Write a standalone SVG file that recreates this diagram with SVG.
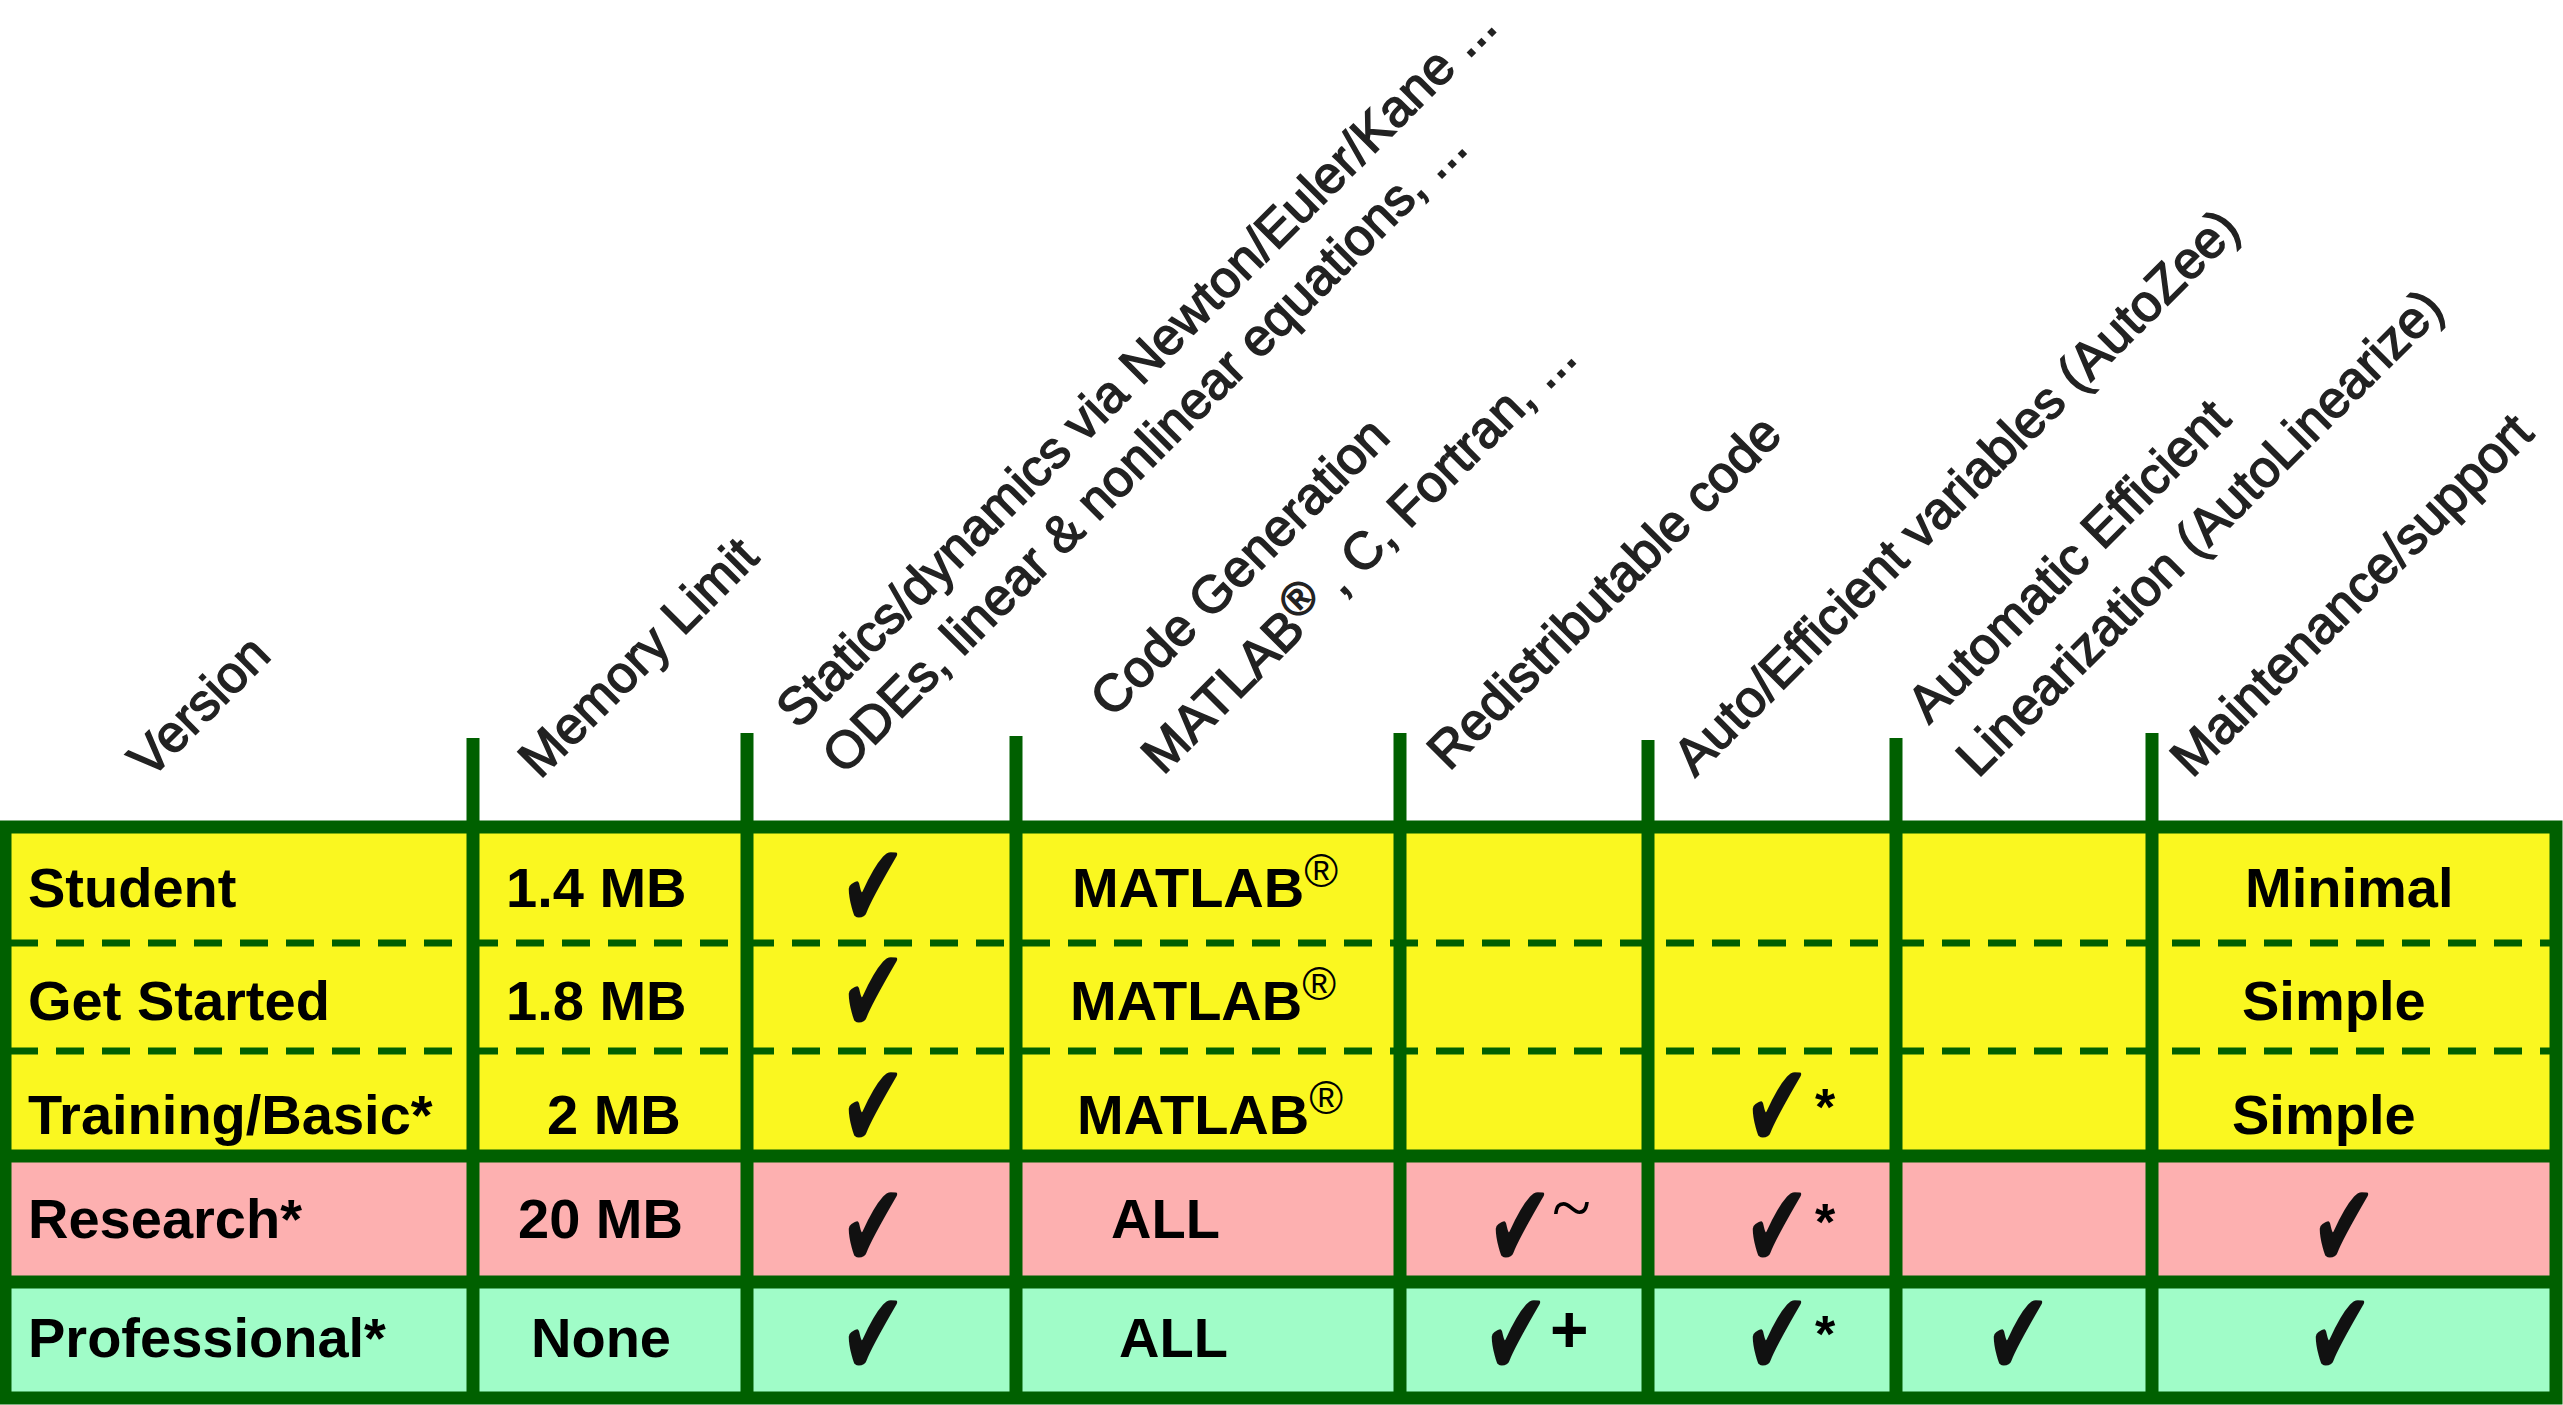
<svg xmlns="http://www.w3.org/2000/svg" width="2563" height="1405" viewBox="0 0 2563 1405">
<style>
.h{font-family:"Liberation Sans",Arial,sans-serif;font-size:52px;fill:#222;stroke:#222;stroke-width:1.5}
.t{font-family:"Liberation Sans",Arial,sans-serif;font-size:56px;font-weight:bold;fill:#000}
.r{font-family:"Liberation Sans",Arial,sans-serif;font-weight:normal;font-size:46px}
.c{font-family:"DejaVu Sans",sans-serif;font-size:100px;fill:#111;text-anchor:middle}
.s{font-family:"Liberation Sans",Arial,sans-serif;font-size:52px;font-weight:bold;fill:#000}
.g{stroke:#006000;stroke-width:13;fill:none}
.d{stroke:#006000;stroke-width:7;stroke-dasharray:28 18;fill:none}
</style>
<rect width="2563" height="1405" fill="#fff"/>
<g id="rows">
<rect x="5" y="827" width="2551" height="329" fill="#FAF720"/>
<rect x="5" y="1156" width="2551" height="126" fill="#FDB0B0"/>
<rect x="5" y="1282" width="2551" height="116" fill="#A0FCC8"/>
</g>
<g id="grid">
<path class="d" d="M10 943H2550M10 1051H2550"/>
<path class="g" d="M5 1156H2556M5 1282H2556"/>
<path class="g" d="M473 738V1398M747 733V1398M1016 736V1398M1400 733V1398M1648 740V1398M1896 738V1398M2152 733V1398"/>
<rect class="g" x="5" y="827" width="2551" height="571"/>
</g>
<g id="headers">
<text class="h" transform="translate(150,780) rotate(-45)">Version</text>
<text class="h" transform="translate(540,780) rotate(-45)">Memory Limit</text>
<text class="h" transform="translate(798,730) rotate(-45)">Statics/dynamics via Newton/Euler/Kane ...</text>
<text class="h" transform="translate(844,776) rotate(-45)">ODEs, linear &amp; nonlinear equations, ...</text>
<text class="h" transform="translate(1112,719) rotate(-45)">Code Generation</text>
<text class="h" transform="translate(1163,776) rotate(-45)">MATLAB<tspan class="r" dy="-14">®</tspan><tspan dy="14"> , C, Fortran, ...</tspan></text>
<text class="h" transform="translate(1449,772) rotate(-45)">Redistributable code</text>
<text class="h" transform="translate(1695,778) rotate(-45)">Auto/Efficient variables (AutoZee)</text>
<text class="h" transform="translate(1929,725) rotate(-45)">Automatic Efficient</text>
<text class="h" transform="translate(1978,779) rotate(-45)">Linearization (AutoLinearize)</text>
<text class="h" transform="translate(2192,779) rotate(-45)">Maintenance/support</text>
</g>
<g id="col-version">
<text class="t" x="28" y="907">Student</text>
<text class="t" x="28" y="1020">Get Started</text>
<text class="t" x="28" y="1134">Training/Basic*</text>
<text class="t" x="28" y="1238">Research*</text>
<text class="t" x="28" y="1357">Professional*</text>
</g>
<g id="col-memory">
<text class="t" x="506" y="907">1.4 MB</text>
<text class="t" x="506" y="1020">1.8 MB</text>
<text class="t" x="547" y="1134">2 MB</text>
<text class="t" x="518" y="1238">20 MB</text>
<text class="t" x="531" y="1357">None</text>
</g>
<g id="col-statics">
<text class="c" transform="matrix(0.8 0 0 1.2 873 928)">✔</text>
<text class="c" transform="matrix(0.8 0 0 1.2 873 1033)">✔</text>
<text class="c" transform="matrix(0.8 0 0 1.2 873 1148)">✔</text>
<text class="c" transform="matrix(0.8 0 0 1.2 873 1268)">✔</text>
<text class="c" transform="matrix(0.8 0 0 1.2 873 1376)">✔</text>
</g>
<g id="col-code">
<text class="t" x="1072" y="907">MATLAB<tspan class="r" dy="-20">®</tspan></text>
<text class="t" x="1070" y="1020">MATLAB<tspan class="r" dy="-20">®</tspan></text>
<text class="t" x="1077" y="1134">MATLAB<tspan class="r" dy="-20">®</tspan></text>
<text class="t" x="1111" y="1238">ALL</text>
<text class="t" x="1119" y="1357">ALL</text>
</g>
<g id="col-redist">
<text class="c" transform="matrix(0.8 0 0 1.2 1520 1268)">✔</text>
<text x="1552" y="1232" style="font-family:'Liberation Serif',serif;font-size:72px;fill:#000">~</text>
<text class="c" transform="matrix(0.8 0 0 1.2 1516 1376)">✔</text>
<text x="1550" y="1352" style="font-family:'Liberation Sans',sans-serif;font-size:66px;font-weight:bold;fill:#000">+</text>
</g>
<g id="col-autozee">
<text class="c" transform="matrix(0.8 0 0 1.2 1777 1148)">✔</text><text class="s" x="1815" y="1125">*</text>
<text class="c" transform="matrix(0.8 0 0 1.2 1777 1268)">✔</text><text class="s" x="1815" y="1240">*</text>
<text class="c" transform="matrix(0.8 0 0 1.2 1777 1376)">✔</text><text class="s" x="1815" y="1352">*</text>
</g>
<g id="col-autolin">
<text class="c" transform="matrix(0.8 0 0 1.2 2018 1376)">✔</text>
</g>
<g id="col-maint">
<text class="t" x="2245" y="907">Minimal</text>
<text class="t" x="2242" y="1020">Simple</text>
<text class="t" x="2232" y="1134">Simple</text>
<text class="c" transform="matrix(0.8 0 0 1.2 2344 1268)">✔</text>
<text class="c" transform="matrix(0.8 0 0 1.2 2340 1376)">✔</text>
</g>
</svg>
